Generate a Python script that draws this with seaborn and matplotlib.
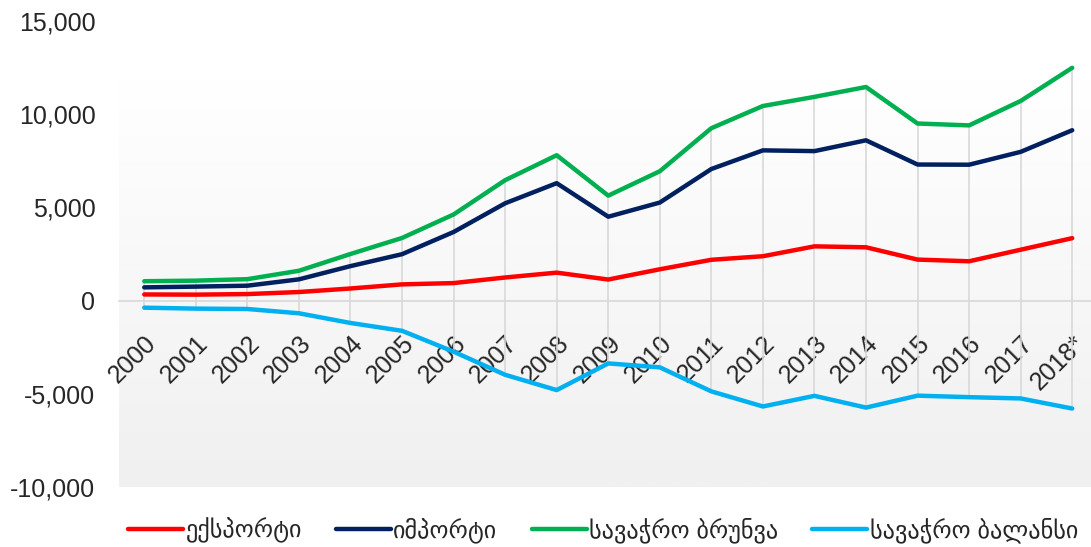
import numpy as np
import pandas as pd
import matplotlib.pyplot as plt
import seaborn as sns
from matplotlib.colors import LinearSegmentedColormap
from matplotlib.lines import Line2D

years = ["2000", "2001", "2002", "2003", "2004", "2005", "2006", "2007", "2008", "2009",
         "2010", "2011", "2012", "2013", "2014", "2015", "2016", "2017", "2018*"]
exports = [330, 320, 350, 460, 650, 870, 940, 1240, 1500, 1130,
           1680, 2190, 2380, 2910, 2860, 2200, 2110, 2730, 3350]
imports = [710, 750, 800, 1140, 1850, 2490, 3680, 5220, 6300, 4500,
           5260, 7060, 8060, 8020, 8600, 7300, 7290, 7980, 9140]
turnover = [1040, 1070, 1150, 1600, 2500, 3360, 4620, 6460, 7800, 5630,
            6940, 9250, 10440, 10930, 11460, 9500, 9400, 10710, 12490]
balance = [-380, -430, -450, -680, -1200, -1620, -2740, -3980, -4800, -3370,
           -3580, -4870, -5680, -5110, -5740, -5100, -5180, -5250, -5790]

names = ["ექსპორტი", "იმპორტი", "სავაჭრო ბრუნვა", "სავაჭრო ბალანსი"]
colors = ["#FF0000", "#002060", "#00B050", "#00B0F0"]

series = [exports, imports, turnover, balance]
df = pd.concat([pd.DataFrame({"x": range(len(years)), "value": s, "series": n})
                for s, n in zip(series, names)], ignore_index=True)

sns.set_style("white")
plt.rcParams["font.family"] = ["Liberation Sans", "DejaVu Sans"]

fig = plt.figure(figsize=(10.91, 5.47), dpi=100)
ax = fig.add_axes([119 / 1091, 1 - 487 / 547, (1098 - 119) / 1091, (487 - 21) / 547])

# gradient background of plot area
cmap = LinearSegmentedColormap.from_list("bg", ["#ffffff", "#f0f0f0"])
ax.imshow(np.linspace(1, 0, 256).reshape(-1, 1), cmap=cmap, origin="lower",
          extent=(-0.49, 18.5, -10000, 11800), aspect="auto", zorder=0)

# high-low lines
lows = df.groupby("x")["value"].min()
highs = df.groupby("x")["value"].max()
ax.vlines(lows.index, lows.values, highs.values, color="#d9d9d9", lw=1.2, zorder=1)

sns.lineplot(data=df, x="x", y="value", hue="series", hue_order=names,
             palette=dict(zip(names, colors)), linewidth=3.2, legend=False,
             sort=False, ax=ax, zorder=3)

for s in ["top", "right", "left"]:
    ax.spines[s].set_visible(False)
ax.spines["bottom"].set_position(("data", 0))
ax.spines["bottom"].set_color("#d9d9d9")
ax.spines["bottom"].set_linewidth(1.2)
ax.spines["bottom"].set_zorder(2)

ax.set_xlim(-0.49, 18.5)
ax.set_ylim(-10000, 15000)
ax.set_yticks(range(-10000, 15001, 5000))
ax.set_yticklabels([f"{v:,}" for v in range(-10000, 15001, 5000)], fontsize=18)
ax.set_xticks(range(len(years)))
ax.set_xticklabels(years, fontsize=18, rotation=45, ha="right", va="top",
                   rotation_mode="anchor")
ax.tick_params(axis="x", length=0, pad=22)
ax.tick_params(axis="y", length=0, pad=17)
ax.set_xlabel("")
ax.set_ylabel("")

handles = [Line2D([], [], color=c, lw=3.2) for c in colors]
fig.legend(handles, names, loc="center", bbox_to_anchor=(603 / 1091, 1 - 530 / 547),
           ncol=4, frameon=False, fontsize=17.5, handlelength=2.26,
           handletextpad=0.1, columnspacing=1.4)

fig.savefig("out.png", dpi=100)
